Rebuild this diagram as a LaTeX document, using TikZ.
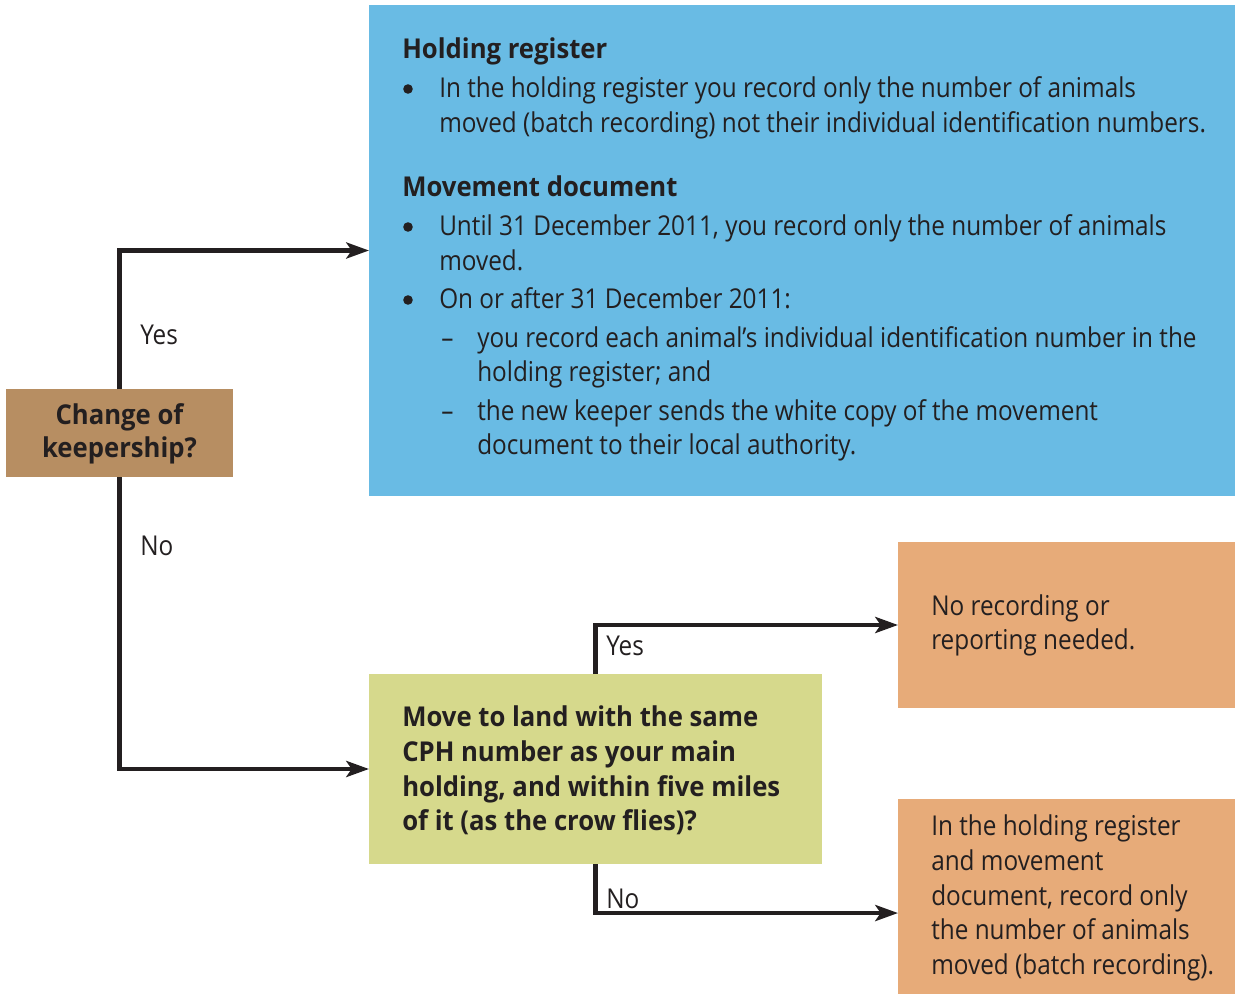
\documentclass[tikz,border=0pt]{standalone}
\usepackage{fontspec}
\setmainfont{Open Sans}[FakeStretch=0.89]
\newfontfamily\headfont{Open Sans}[FakeStretch=0.94]
\usetikzlibrary{arrows.meta}
\definecolor{ink}{HTML}{231F20}
\definecolor{skyblue}{HTML}{69BBE4}
\definecolor{tan}{HTML}{B78E62}
\definecolor{olivelight}{HTML}{D6D98C}
\definecolor{apricot}{HTML}{E7AB79}
\tikzset{
  panel/.style={rectangle, inner sep=0pt, outer sep=0pt},
  body/.style={anchor=base west, inner sep=0pt, text=ink, yshift=-1.5pt,
    font=\fontsize{20.5pt}{26.25pt}\selectfont},
  head/.style={body, font=\fontsize{20.5pt}{26.25pt}\headfont\bfseries},
  dot/.style={circle, fill=ink, inner sep=0pt, minimum size=7.2pt},
  flow/.style={draw=ink, line width=3.4pt,
    -{Stealth[length=17pt,width=12pt,inset=4pt]}},
  lbl/.style={body}
}
\begin{document}
\begin{tikzpicture}[x=0.75pt,y=-0.75pt]
\useasboundingbox (0,0) rectangle (1235,994);

% boxes
\node[panel, fill=skyblue, minimum width=649.5pt, minimum height=368.25pt] (info) at (802,250.5) {};
\node[panel, fill=tan, minimum width=170.25pt, minimum height=66pt, text=ink, align=center,
  font=\fontsize{20.5pt}{24.75pt}\headfont\bfseries] (keeper) at (119.5,433.5) {Change of\\keepership?};
\node[panel, fill=olivelight, minimum width=339.75pt, minimum height=142.5pt] (land) at (595.5,769) {};
\node[panel, fill=apricot, minimum width=252.75pt, minimum height=124.5pt] (none) at (1066.5,625) {};
\node[panel, fill=apricot, minimum width=252.75pt, minimum height=146.25pt] (batch) at (1066.5,896.5) {};

% connectors
\draw[flow] (keeper.north) |- (info.west);
\draw[flow] (keeper.south) |- (land.west);
\draw[flow] (land.north) |- (none.west);
\draw[flow] (land.south) |- ([yshift=-12.4pt]batch.west);

% connector labels
\node[lbl] (yes1) at (140,343) {Yes};
\node[lbl] (no1) at (140,554) {No};
\node[lbl] (yes2) at (606,653) {Yes};
\node[lbl] (no2) at (606,906) {No};

% holding register / movement document panel
\node[head] (h1) at (402,57) {Holding register};
\node[dot] (b1) at (408,89) {};
\node[body] (l1) at (439,96) {In the holding register you record only the number of animals};
\node[body] (l2) at (439,131) {moved (batch recording) not their individual identification numbers.};
\node[head] (h2) at (402,195) {Movement document};
\node[dot] (b2) at (408,227) {};
\node[body] (l3) at (439,234) {Until 31 December 2011, you record only the number of animals};
\node[body] (l4) at (439,269) {moved.};
\node[dot] (b3) at (408,300) {};
\node[body] (l5) at (439,307) {On or after 31 December 2011:};
\node[body] (d1) at (441,346) {–};
\node[body] (l6) at (477,346) {you record each animal’s individual identification number in the};
\node[body] (l7) at (477,380) {holding register; and};
\node[body] (d2) at (441,419) {–};
\node[body] (l8) at (477,419) {the new keeper sends the white copy of the movement};
\node[body] (l9) at (477,453) {document to their local authority.};

% question box text
\node[head] (q1) at (402,724) {Move to land with the same};
\node[head] (q2) at (402,759) {CPH number as your main};
\node[head] (q3) at (402,794) {holding, and within five miles};
\node[head] (q4) at (402,828) {of it (as the crow flies)?};

% outcome texts
\node[body] (n1) at (931,613) {No recording or};
\node[body] (n2) at (931,647) {reporting needed.};
\node[body] (r1) at (931,833) {In the holding register};
\node[body] (r2) at (931,868) {and movement};
\node[body] (r3) at (931,903) {document, record only};
\node[body] (r4) at (931,937) {the number of animals};
\node[body] (r5) at (931,972) {moved (batch recording).};
\end{tikzpicture}
\end{document}
